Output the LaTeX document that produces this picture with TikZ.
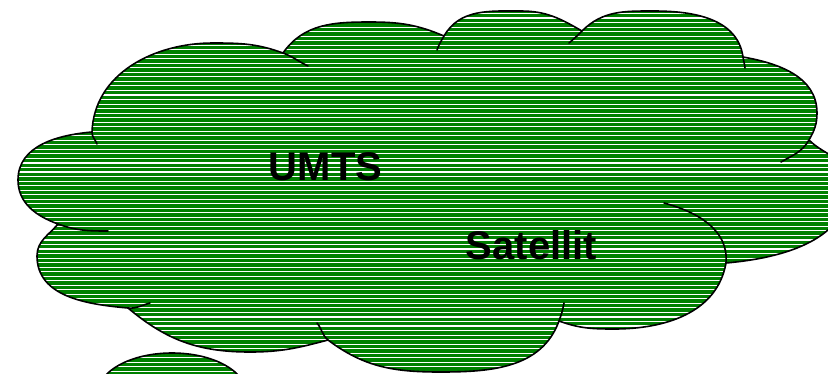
\documentclass[tikz,border=0pt]{standalone}
\usepackage{fontspec}
\setmainfont{Liberation Sans}
\definecolor{cloudgreen}{RGB}{0,128,0}
\tikzset{
  outline/.style={draw=black, line width=1.6pt, line cap=round, line join=round},
  hook/.style={draw=black, line width=1.6pt, line cap=round},
  stripe/.style={draw=white, line width=1.1pt},
  label/.style={font=\bfseries\fontsize{40}{40}\selectfont, text=black, inner sep=0pt, anchor=base}
}
\begin{document}
\begin{tikzpicture}[x=1pt, y=-1pt]
\useasboundingbox (0,0) rectangle (828,373);
\clip (0,0) rectangle (828,373);

% cloud outline, lobe by lobe, clockwise from the upper-left junction
% (angles are the usual counter-clockwise ones, y up on the page)
\def\cloudpath{
  (92,132) to[out=88,in=180] (213,43) to[out=0,in=160] (283,53)
  to[out=55,in=180] (370,22) to[out=0,in=157] (444,36)
  to[out=60,in=180] (521,11) to[out=0,in=150] (582,31)
  to[out=45,in=180] (654,11) to[out=0,in=98] (743,57)
  to[out=-10,in=90] (817,113) to[out=-90,in=60] (809,140)
  to[out=-45,in=90] (850,182) to[out=-90,in=5] (726,263)
  to[out=-100,in=0] (614,329) to[out=180,in=-20] (559,321)
  to[out=-110,in=0] (440,372) to[out=180,in=-37] (328,340)
  to[out=-165,in=0] (250,352) to[out=180,in=-40] (128,308)
  to[out=175,in=-90] (37,256) to[out=90,in=-130] (58,224)
  to[out=160,in=-90] (18,180) to[out=90,in=185] (92,132) -- cycle
}
\def\bubblepath{(172,393) ellipse[x radius=74, y radius=40]}

% green fill with white horizontal hatching
\fill[cloudgreen] \cloudpath;
\fill[cloudgreen] \bubblepath;
\begin{scope}
  \clip \cloudpath \bubblepath;
  \foreach \k in {0,...,83} {
    \draw[stripe] (0,{4.4+4.53*\k}) -- (850,{4.4+4.53*\k});
  }
\end{scope}

% outlines
\draw[outline] \cloudpath;
\draw[outline] \bubblepath;

% inner hooks where the lobes overlap
\coordinate (j0) at (92,132);
\coordinate (j1) at (283,53);
\coordinate (j2) at (444,36);
\coordinate (j3) at (582,31);
\coordinate (j4) at (743,57);
\coordinate (j5) at (809,140);
\coordinate (j6) at (726,263);
\coordinate (j7) at (559,321);
\coordinate (j8) at (328,340);
\coordinate (j9) at (128,308);
\coordinate (j10) at (58,224);
\draw[hook] (j0) to[out=-92,in=110] (97,144);
\draw[hook] (j1) to[out=-20,in=155] (308,66);
\draw[hook] (j2) to[out=-120,in=70] (437,50);
\draw[hook] (j3) to[out=-135,in=40] (569,43);
\draw[hook] (j4) to[out=-82,in=95] (745,68);
\draw[hook] (j5) to[out=-120,in=30] (781,162);
\draw[hook] (j6) to[out=85,in=-15] (664,203);
\draw[hook] (j7) to[out=70,in=-100] (564,303);
\draw[hook] (j8) to[out=140,in=-50] (317,323);
\draw[hook] (j9) to[out=-5,in=195] (150,303);
\draw[hook] (j10) to[out=-20,in=180] (108,231);

% labels
\node[label] (umts) at (325.5,180) {UMTS};
\node[label] (sat) at (531.5,259) {Satellit};
\end{tikzpicture}
\end{document}
